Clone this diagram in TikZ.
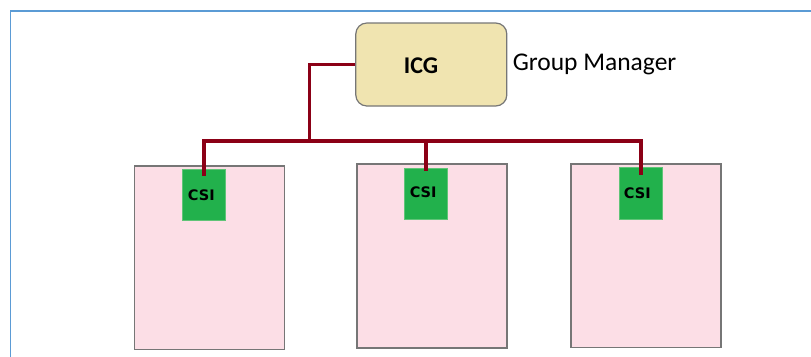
\documentclass[tikz,border=0pt]{standalone}
\usepackage{fontspec}
\setmainfont{Carlito}
\newfontfamily\csifont{DejaVu Sans}
\definecolor{frameblue}{RGB}{91,155,213}
\definecolor{icgfill}{RGB}{240,228,176}
\definecolor{boxgray}{RGB}{118,118,118}
\definecolor{hostpink}{RGB}{252,222,230}
\definecolor{csigreen}{RGB}{34,177,76}
\definecolor{csiedge}{RGB}{96,196,120}
\definecolor{wirered}{RGB}{139,0,22}
\tikzset{
  icgbox/.style={draw=boxgray, line width=1.2pt, fill=icgfill, rounded corners=11pt,
    minimum width=151pt, minimum height=83pt, inner sep=0pt},
  hostbox/.style={draw=boxgray, line width=1.6pt, fill=hostpink,
    minimum width=150pt, minimum height=183.6pt, inner sep=0pt},
  csibox/.style={draw=csiedge, line width=0.6pt, fill=csigreen,
    minimum width=43pt, minimum height=51.5pt, inner sep=0pt},
  csitext/.style={font=\csifont\bfseries\fontsize{14.5}{16}\selectfont, anchor=base, inner sep=0pt},
  wire/.style={draw=wirered, line width=3.6pt},
}
\begin{document}
\begin{tikzpicture}[x=1pt, y=-1pt]
  \useasboundingbox (0,0) rectangle (811,356);
  % outer frame, running past the right and bottom edges
  \begin{scope}
    \clip (0,0) rectangle (811,356);
    \draw[frameblue, line width=1.3pt] (10.7,380) -- (10.7,11) -- (830,11);
  \end{scope}

  % host boxes
  \node[hostbox] (host1) at (209.3,257.5) {};
  \node[hostbox] (host2) at (431.8,256.0) {};
  \node[hostbox] (host3) at (646.2,255.5) {};

  % CSI blocks
  \node[csibox] (csi1) at (204.2,195.0) {};
  \node[csibox] (csi2) at (426.2,193.7) {};
  \node[csibox] (csi3) at (640.8,193.5) {};
  \node[csitext] (csi1t) at (201.3,200.7) {CSI};
  \node[csitext] (csi2t) at (423.2,197.7) {CSI};
  \node[csitext] (csi3t) at (637.3,198.7) {CSI};

  % group manager
  \node[icgbox] (icg) at (431.3,64.5) {};
  \node[anchor=base, inner sep=0pt, font=\bfseries\fontsize{24}{26}\selectfont] (icgt) at (421,73.3) {ICG};
  \node[anchor=base west, inner sep=0pt, font=\fontsize{25.5}{28}\selectfont] (gm) at (512.6,70.7) {Group Manager};

  % wiring
  \coordinate (bus) at (309.3,141);
  \draw[wire] (icg.west) -| (bus);
  \draw[wire] ([yshift=-7pt]csi1.north) |- (bus) -| ([yshift=-8pt]csi3.north);
  \draw[wire] (bus -| csi2.north) -- ([yshift=-3pt]csi2.north);
\end{tikzpicture}
\end{document}
